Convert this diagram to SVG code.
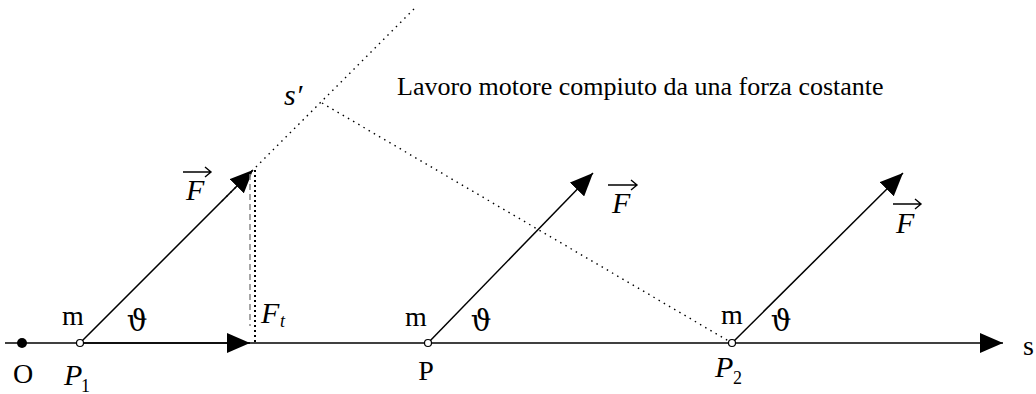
<svg xmlns="http://www.w3.org/2000/svg" width="1036" height="394" viewBox="0 0 1036 394">
<style>
.ax{stroke:#000;stroke-width:1.6;fill:none}
.fv{stroke:#000;stroke-width:1.5;fill:none}
.dot{stroke:#000;stroke-width:1.4;fill:none;stroke-dasharray:1.5 4.5}
.dot2{stroke:#000;stroke-width:2;fill:none;stroke-dasharray:2 3}
.gdash{stroke:#888;stroke-width:1.5;fill:none;stroke-dasharray:6 4}
.mono{font-family:"Liberation Serif","Times New Roman",serif;font-size:28px;fill:#000}
.it{font-family:"Liberation Serif","Times New Roman",serif;font-style:italic;font-size:30px;fill:#000}
.sub{font-family:"Liberation Serif","Times New Roman",serif;font-size:18px;fill:#000}
.sym{font-family:"DejaVu Serif","Liberation Serif",serif;font-size:29px;fill:#000}
.title{font-family:"Liberation Serif","Times New Roman",serif;font-size:26px;fill:#000}
.vec{stroke:#000;stroke-width:1.4;fill:none}
</style>
<defs>
<marker id="ah" markerWidth="24" markerHeight="20" refX="23" refY="10" orient="auto" markerUnits="userSpaceOnUse">
<path d="M0,0 L23,10 L0,20 Z" fill="#000"/>
</marker>
</defs>
<rect width="1036" height="394" fill="#fff"/>
<g id="connectors">
<line class="ax" x1="5" y1="343" x2="1003" y2="343" marker-end="url(#ah)"/>
<line class="ax" x1="80" y1="343" x2="250" y2="343" marker-end="url(#ah)"/>
<line class="fv" x1="80" y1="343" x2="253" y2="170" marker-end="url(#ah)"/>
<line class="fv" x1="428" y1="343" x2="593" y2="173" marker-end="url(#ah)"/>
<line class="fv" x1="732" y1="343" x2="903" y2="173" marker-end="url(#ah)"/>
<line class="dot" x1="222" y1="201" x2="415" y2="8"/>
<line class="dot" x1="322" y1="103" x2="732" y2="343"/>
<line class="gdash" x1="250" y1="174" x2="250" y2="326"/>
<line class="dot2" x1="255" y1="170" x2="255" y2="343"/>
</g>
<g id="origin">
<circle cx="22" cy="343" r="5" fill="#000"/>
<text class="mono" x="23" y="383" text-anchor="middle">O</text>
</g>
<g id="p1">
<circle cx="80" cy="343" r="3.5" fill="#fff" stroke="#000" stroke-width="1.2"/>
<text class="mono" x="73" y="325" text-anchor="middle">m</text>
<text class="sym" x="137" y="331" text-anchor="middle">ϑ</text>
<text class="it" x="64" y="385">P</text>
<text class="sub" x="81" y="392">1</text>
<text class="it" x="186" y="200">F</text>
<path class="vec" d="M183,172 H211 M205,167 L211,172 L205,177"/>
<text class="it" x="261" y="323">F</text>
<text class="sub" x="280" y="327" font-style="italic">t</text>
</g>
<g id="sprime">
<text class="it" x="284" y="105">s′</text>
</g>
<g id="p">
<circle cx="428" cy="343" r="3.5" fill="#fff" stroke="#000" stroke-width="1.2"/>
<text class="mono" x="416" y="326" text-anchor="middle">m</text>
<text class="sym" x="481" y="331" text-anchor="middle">ϑ</text>
<text class="mono" x="426" y="380" text-anchor="middle">P</text>
<text class="it" x="612" y="213">F</text>
<path class="vec" d="M608,185 H637 M631,180 L637,185 L631,190"/>
</g>
<g id="p2">
<circle cx="732" cy="343" r="3.5" fill="#fff" stroke="#000" stroke-width="1.2"/>
<text class="mono" x="732" y="324" text-anchor="middle">m</text>
<text class="sym" x="781" y="331" text-anchor="middle">ϑ</text>
<text class="it" x="715" y="377">P</text>
<text class="sub" x="733" y="384">2</text>
<text class="it" x="896" y="233">F</text>
<path class="vec" d="M893,204 H921 M915,199 L921,204 L915,209"/>
</g>
<g id="s-label">
<text class="mono" x="1023" y="355">s</text>
</g>
<g id="title">
<text class="title" x="397" y="95">Lavoro motore compiuto da una forza costante</text>
</g>
</svg>
